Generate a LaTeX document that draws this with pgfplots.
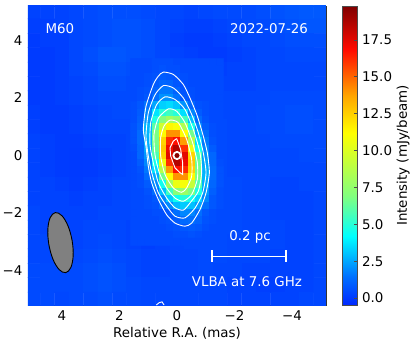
\documentclass[border=0pt]{standalone}
\usepackage{pgfplots}
\pgfplotsset{compat=1.18}
\usepackage{fontspec}
\setmainfont{DejaVu Sans}

\begin{document}
\begin{tikzpicture}
\fontsize{13.4}{15}\selectfont
\path[use as bounding box] (-28pt,-41pt) rectangle (387pt,305pt);
\begin{axis}[
    scale only axis,
    width=298pt,
    height=299pt,
    at={(0pt,0pt)},
    x dir=reverse,
    xmin=-5.18, xmax=5.18,
    ymin=-5.2, ymax=5.2,
    xtick={-4,-2,0,2,4},
    xticklabels={−4,−2,0,2,4},
    ytick={-4,-2,0,2,4},
    yticklabels={−4,−2,0,2,4},
    minor x tick num=3,
    minor y tick num=3,
    tick align=inside,
    ticks=both,
    xtick pos=both,
    ytick pos=both,
    major tick length=5pt,
    minor tick length=3pt,
    tick style={black, line width=0.8pt},
    minor tick style={black, line width=0.6pt},
    axis line style={line width=0.8pt, black!80},
    xlabel={Relative R.A. (mas)},
    tick label style={font=\fontsize{13.4}{15}\selectfont},
    label style={font=\fontsize{13.4}{15}\selectfont},
    xticklabel style={yshift=-1pt},
    xlabel style={yshift=3pt},
    yticklabel style={xshift=-1pt},
    point meta min=-0.47,
    point meta max=19.8,
    colormap={radio}{
        rgb255(0cm)=(0,40,255);
        rgb255(0.95cm)=(0,112,255);
        rgb255(2.3cm)=(0,255,255);
        rgb255(3.63cm)=(128,255,128);
        rgb255(5.75cm)=(255,255,0);
        rgb255(7cm)=(255,165,0);
        rgb255(8.55cm)=(255,10,0);
        rgb255(10cm)=(127,0,0)
    },
    colorbar,
    colorbar style={
        at={(parent axis.north east)},
        anchor=north west,
        xshift=8pt,
        width=15pt,
        ytick={0,2.5,5,7.5,10,12.5,15,17.5},
        yticklabels={0.0,2.5,5.0,7.5,10.0,12.5,15.0,17.5},
        yticklabel pos=right,
        ytick pos=right,
        tick align=inside,
        major tick length=4pt,
        tick style={black!70, line width=0.8pt},
        axis line style={line width=0.8pt, black!70},
        tick label style={font=\fontsize{13.4}{15}\selectfont},
        ylabel={Intensity (mJy/beam)},
        ylabel style={font=\fontsize{13.4}{15}\selectfont, at={(axis description cs:4.05,0.5)}, anchor=center},
    },
]

% background, 0.5 mas cells, one line per row from y=5 down to y=-5
\addplot[matrix plot*, mesh/cols=21, point meta=explicit, forget plot]
  table[header=false, row sep=\\, meta index=0,
        x expr={5-0.5*(\coordindex-21*floor((\coordindex+0.5)/21))},
        y expr={5-0.5*floor((\coordindex+0.5)/21)}] {
.25\\.25\\.25\\.35\\.45\\.55\\.55\\.55\\.45\\.35\\.35\\.25\\.35\\.45\\.45\\.45\\.55\\.65\\.75\\.85\\.85\\
.15\\.15\\.25\\.35\\.45\\.55\\.65\\.65\\.55\\.35\\.25\\.15\\.15\\.25\\.35\\.45\\.45\\.55\\.65\\.75\\.75\\
.05\\.15\\.15\\.35\\.45\\.55\\.65\\.65\\.55\\.35\\.15\\.05\\.05\\.15\\.25\\.35\\.35\\.45\\.55\\.55\\.55\\
.05\\.05\\.15\\.35\\.55\\.75\\.75\\.65\\.55\\.35\\.25\\.15\\.05\\.05\\.15\\.25\\.35\\.35\\.45\\.45\\.45\\
.05\\.05\\.15\\.35\\.45\\.65\\.65\\.55\\.45\\.35\\.35\\.25\\.15\\.15\\.25\\.25\\.35\\.35\\.35\\.35\\.35\\
.05\\.05\\.15\\.25\\.35\\.55\\.55\\.45\\.45\\.45\\.45\\.45\\.25\\.25\\.25\\.25\\.35\\.35\\.35\\.35\\.35\\
.05\\.05\\.15\\.25\\.35\\.45\\.45\\.45\\.45\\.45\\.45\\.45\\.35\\.35\\.35\\.35\\.35\\.45\\.45\\.45\\.45\\
.15\\.05\\.05\\.15\\.25\\.35\\.45\\.45\\.45\\.45\\.45\\.45\\.45\\.35\\.35\\.35\\.45\\.45\\.55\\.55\\.45\\
.15\\.05\\.05\\.15\\.25\\.35\\.35\\.35\\.45\\.45\\.45\\.45\\.45\\.45\\.35\\.35\\.45\\.45\\.55\\.55\\.45\\
.25\\.15\\.05\\.05\\.15\\.25\\.25\\.35\\.45\\.45\\.45\\.45\\.45\\.45\\.35\\.35\\.35\\.45\\.45\\.45\\.45\\
.25\\.15\\.05\\0\\.05\\.15\\.25\\.35\\.45\\.45\\.45\\.45\\.45\\.45\\.35\\.35\\.35\\.35\\.35\\.45\\.45\\
.25\\.15\\.05\\0\\.05\\.15\\.25\\.35\\.45\\.45\\.45\\.45\\.45\\.45\\.35\\.35\\.35\\.35\\.35\\.35\\.35\\
.25\\.25\\.15\\.05\\.15\\.25\\.35\\.35\\.45\\.45\\.45\\.45\\.45\\.45\\.45\\.35\\.35\\.25\\.25\\.35\\.35\\
.25\\.25\\.25\\.15\\.25\\.25\\.35\\.35\\.45\\.45\\.45\\.45\\.45\\.45\\.45\\.35\\.35\\.25\\.25\\.25\\.35\\
.35\\.25\\.25\\.25\\.25\\.35\\.35\\.35\\.35\\.45\\.45\\.45\\.45\\.45\\.45\\.35\\.35\\.25\\.25\\.25\\.35\\
.35\\.25\\.25\\.25\\.35\\.35\\.35\\.25\\.25\\.35\\.45\\.45\\.45\\.45\\.45\\.35\\.35\\.35\\.25\\.25\\.35\\
.35\\.35\\.25\\.25\\.35\\.45\\.35\\.25\\.15\\.25\\.35\\.45\\.45\\.45\\.35\\.35\\.35\\.35\\.25\\.25\\.35\\
.35\\.35\\.35\\.35\\.45\\.55\\.45\\.35\\.25\\.25\\.35\\.35\\.45\\.45\\.35\\.35\\.35\\.25\\.25\\.25\\.35\\
.45\\.45\\.45\\.45\\.55\\.65\\.55\\.35\\.25\\.25\\.35\\.35\\.45\\.35\\.35\\.25\\.25\\.25\\.25\\.25\\.35\\
.45\\.45\\.45\\.45\\.55\\.65\\.55\\.45\\.35\\.35\\.35\\.35\\.35\\.35\\.25\\.25\\.15\\.15\\.25\\.25\\.35\\
.45\\.45\\.35\\.45\\.45\\.55\\.45\\.45\\.35\\.35\\.35\\.35\\.35\\.35\\.25\\.25\\.25\\.25\\.25\\.35\\.35\\
};

% source, 0.25 mas cells, one line per row from y=3.25 down to y=-3
\addplot[matrix plot*, mesh/cols=13, point meta=explicit, forget plot]
  table[header=false, row sep=\\, meta index=0,
        x expr={1.5-0.25*(\coordindex-13*floor((\coordindex+0.5)/13))},
        y expr={3.25-0.25*floor((\coordindex+0.5)/13)}] {
.45\\.45\\.45\\.55\\.55\\.55\\.45\\.45\\.45\\.45\\.45\\.45\\.45\\
.45\\.45\\.45\\.55\\.65\\.55\\.55\\.45\\.45\\.45\\.45\\.45\\.45\\
.45\\.45\\.55\\.65\\.9\\.8\\.65\\.55\\.45\\.45\\.45\\.45\\.45\\
.45\\.45\\.55\\.9\\1.2\\1.1\\.8\\.55\\.45\\.45\\.45\\.45\\.45\\
.45\\.55\\.65\\1.1\\1.6\\1.6\\1.1\\.65\\.55\\.45\\.45\\.45\\.45\\
.45\\.55\\.8\\1.4\\2.1\\2.1\\1.5\\.8\\.55\\.45\\.45\\.45\\.45\\
.55\\.8\\1.5\\2.5\\3.3\\3.5\\3.1\\2.1\\1.2\\.65\\.55\\.45\\.45\\
.55\\.9\\1.9\\3.7\\5.0\\5.5\\5.0\\3.6\\1.9\\.9\\.55\\.45\\.45\\
.55\\1.0\\2.2\\4.8\\7.0\\8.0\\7.4\\5.6\\3.0\\1.3\\.65\\.45\\.45\\
.65\\1.1\\2.8\\6.1\\9.6\\11.4\\11\\8.5\\4.7\\1.9\\.9\\.55\\.45\\
.65\\1.3\\2.8\\6.8\\11.3\\14.1\\14.1\\11.2\\6.6\\2.6\\1.3\\.55\\.45\\
.65\\1.3\\2.7\\6.7\\12.4\\16.2\\16.8\\13.9\\8.7\\3.6\\1.6\\.65\\.45\\
.55\\1.2\\2.5\\6.4\\12.7\\17.2\\18.6\\16.1\\10.7\\4.6\\1.9\\.9\\.45\\
.45\\1.2\\2.2\\5.8\\12.4\\17.5\\19.6\\17.5\\12.4\\5.8\\2.2\\1.2\\.45\\
.45\\.9\\1.9\\4.6\\10.7\\16.1\\18.6\\17.2\\12.7\\6.4\\2.5\\1.2\\.55\\
.45\\.65\\1.6\\3.6\\8.7\\13.9\\16.8\\16.2\\12.4\\6.7\\2.7\\1.3\\.65\\
.45\\.55\\1.3\\2.6\\6.6\\11.2\\14.1\\14.1\\11.3\\6.8\\2.8\\1.3\\.65\\
.45\\.55\\.9\\1.9\\4.5\\8.1\\10.5\\10.9\\9.2\\5.9\\2.7\\1.2\\.65\\
.45\\.45\\.65\\1.3\\3.0\\5.5\\7.2\\7.8\\6.8\\4.7\\2.2\\1.0\\.55\\
.45\\.45\\.55\\.8\\1.9\\3.3\\4.5\\5.0\\4.5\\3.4\\1.9\\.8\\.55\\
.45\\.45\\.55\\.65\\1.2\\1.9\\2.9\\3.2\\3.0\\2.4\\1.4\\.8\\.55\\
.45\\.45\\.45\\.55\\.55\\.8\\1.4\\1.9\\1.9\\1.4\\.8\\.55\\.45\\
.45\\.45\\.45\\.45\\.55\\.65\\.9\\1.3\\1.4\\1.1\\.65\\.55\\.45\\
.45\\.45\\.45\\.45\\.45\\.55\\.65\\.8\\.9\\.8\\.55\\.45\\.45\\
.45\\.45\\.45\\.45\\.45\\.45\\.55\\.55\\.65\\.55\\.45\\.45\\.45\\
.45\\.45\\.45\\.45\\.45\\.45\\.45\\.45\\.45\\.45\\.45\\.45\\.45\\
};

% contours, outermost first
\addplot[white, line width=0.9pt, smooth cycle, tension=0.4, forget plot] coordinates {
 (0.475,2.90)(0.128,2.82)(-0.220,2.47)(-0.452,2.00)(-0.707,1.37)(-0.915,0.67)(-1.055,0.09)(-1.125,-0.60)
 (-1.009,-1.30)(-0.800,-1.88)(-0.510,-2.35)(-0.278,-2.46)(0.070,-2.35)(0.360,-2.06)(0.649,-1.53)(0.881,-0.95)
 (0.997,-0.37)(1.078,0.32)(1.170,0.90)(1.078,1.71)(0.823,2.47)(0.649,2.76)};
\addplot[white, line width=0.9pt, smooth cycle, tension=0.4, forget plot] coordinates {
 (0.475,2.43)(0.128,2.35)(-0.220,2.00)(-0.510,1.43)(-0.742,0.79)(-0.915,0.09)(-1.009,-0.60)(-0.893,-1.30)
 (-0.626,-1.83)(-0.278,-2.17)(0.070,-2.11)(0.360,-1.76)(0.649,-1.30)(0.881,-0.60)(0.997,-0.02)(1.078,0.67)
 (0.997,1.48)(0.765,2.11)};
\addplot[white, line width=0.9pt, smooth cycle, tension=0.4, forget plot] coordinates {
 (0.417,2.04)(0.070,1.95)(-0.278,1.60)(-0.568,0.90)(-0.800,0.09)(-0.857,-0.60)(-0.742,-1.24)(-0.452,-1.65)
 (-0.220,-1.90)(0.070,-1.82)(0.360,-1.48)(0.649,-0.95)(0.823,-0.26)(0.939,0.38)(0.915,1.14)(0.707,1.77)};
\addplot[white, line width=0.9pt, smooth cycle, tension=0.4, forget plot] coordinates {
 (0.302,1.62)(0.012,1.54)(-0.278,1.14)(-0.545,0.44)(-0.707,-0.26)(-0.707,-0.83)(-0.510,-1.36)(-0.220,-1.59)
 (0.070,-1.48)(0.360,-1.13)(0.614,-0.60)(0.765,0.03)(0.800,0.73)(0.649,1.30)};
\addplot[white, line width=0.9pt, smooth cycle, tension=0.4, forget plot] coordinates {
 (0.243,1.23)(-0.046,1.14)(-0.336,0.56)(-0.510,-0.14)(-0.510,-0.72)(-0.336,-1.13)(-0.162,-1.28)(0.128,-1.13)
 (0.417,-0.66)(0.568,-0.02)(0.568,0.62)(0.452,1.02)};
\addplot[white, line width=0.9pt, forget plot] coordinates {
 (0.012,0.59)(-0.128,0.21)(-0.197,-0.26)(-0.197,-0.66)(-0.081,-0.58)(0.070,-0.43)(0.220,-0.02)(0.243,0.27)(0.128,0.50)(0.012,0.59)};
\addplot[white, line width=0.9pt, forget plot] coordinates {
 (0.72,-5.2)(0.62,-5.12)(0.52,-5.09)(0.45,-5.2)};
\addplot[only marks, mark=o, mark size=3.6pt, mark options={white, line width=1.8pt}, forget plot] coordinates {(0,0)};

% beam
\addplot[fill=gray, draw=black, line width=0.9pt, smooth cycle, tension=0.6, forget plot] coordinates {
 (4.23,-1.986)(4.408,-2.161)(4.49,-2.569)(4.454,-3.10)(4.31,-3.613)(4.096,-3.969)
 (3.87,-4.074)(3.692,-3.899)(3.61,-3.491)(3.646,-2.96)(3.79,-2.447)(4.004,-2.091)};

% scale bar
\addplot[white, line width=1.5pt, forget plot] coordinates {(-1.22,-3.51)(-3.79,-3.51)};
\addplot[white, line width=1.5pt, forget plot] coordinates {(-1.22,-3.30)(-1.22,-3.72)};
\addplot[white, line width=1.5pt, forget plot] coordinates {(-3.79,-3.30)(-3.79,-3.72)};

\node[white, font=\fontsize{13.4}{15}\selectfont] at (axis cs:-2.54,-2.82) {0.2 pc};
\node[white, font=\fontsize{13.4}{15}\selectfont] at (axis cs:-2.43,-4.38) {VLBA at 7.6 GHz};
\node[white, font=\fontsize{13.4}{15}\selectfont] at (axis cs:4.07,4.42) {M60};
\node[white, font=\fontsize{13.4}{15}\selectfont] at (axis cs:-3.2,4.42) {2022-07-26};
\end{axis}
\end{tikzpicture}
\end{document}
